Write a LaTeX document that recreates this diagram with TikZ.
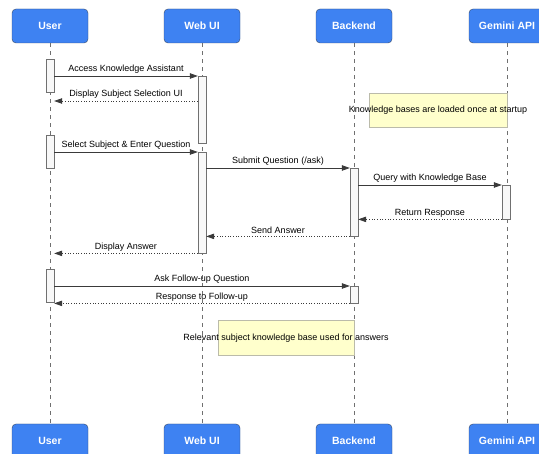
\documentclass[tikz,border=0pt]{standalone}
\usepackage{fontspec}
\setmainfont{Liberation Sans}
\usetikzlibrary{arrows.meta,calc,positioning}
\definecolor{ink}{HTML}{3A3A3A}
\definecolor{gblue}{HTML}{3E82F2}
\definecolor{gedge}{HTML}{3A4A66}
\definecolor{lline}{HTML}{707070}
\definecolor{notefill}{HTML}{FFFFCC}
\definecolor{noteedge}{HTML}{BBBBAA}
\definecolor{barfill}{HTML}{F8F8F8}
\begin{document}
\begin{tikzpicture}[x=1pt,y=-1pt,>={Triangle[length=8pt,width=5.5pt]},
  actor/.style={draw=gedge,fill=gblue,rounded corners=4pt,minimum width=76pt,minimum height=34pt,inner sep=0pt,text=white,font=\fontsize{10.5}{12}\selectfont\bfseries},
  actbar/.style={draw=lline,fill=barfill,minimum width=8pt,inner sep=0pt,anchor=north},
  msg/.style={->,draw=ink,line width=0.8pt},
  ret/.style={->,draw=ink,line width=0.7pt,dotted},
  lbl/.style={above,inner sep=2pt,font=\fontsize{9}{11}\selectfont,text=black},
  notebox/.style={draw=noteedge,fill=notefill,inner sep=0pt}]
\useasboundingbox (0,0) rectangle (539,454);
% participants
\node[actor] (user) at (50,26) {User};
\node[actor] (webui) at (202,26) {Web UI};
\node[actor] (backend) at (354,26) {Backend};
\node[actor] (gemini) at (507,26) {Gemini API};
\node[actor] (userB) at (50,441) {User};
\node[actor] (webuiB) at (202,441) {Web UI};
\node[actor] (backendB) at (354,441) {Backend};
\node[actor] (geminiB) at (507,441) {Gemini API};
% lifelines
\foreach \p in {user,webui,backend,gemini}
  \draw[lline,line width=0.7pt,dash pattern=on 4pt off 4pt] (\p.south) -- (\p B.north);
% notes
\node[notebox,minimum width=138pt,minimum height=34pt] (kbnote) at (438,110) {};
\node[font=\fontsize{9}{11}\selectfont] at (kbnote) {Knowledge bases are loaded once at startup};
\node[notebox,minimum width=136pt,minimum height=35pt] (subnote) at (286,338) {};
\node[font=\fontsize{9}{11}\selectfont] at (subnote) {Relevant subject knowledge base used for answers};
% activations
\node[actbar,minimum height=33pt] (ua1) at (50,59) {};
\node[actbar,minimum height=67pt] (wa1) at (202,76) {};
\node[actbar,minimum height=33pt] (ua2) at (50,135) {};
\node[actbar,minimum height=101pt] (wa2) at (202,152) {};
\node[actbar,minimum height=68pt] (ba1) at (354,168) {};
\node[actbar,minimum height=34pt] (ga1) at (506,185) {};
\node[actbar,minimum height=33pt] (ua3) at (50,269) {};
\node[actbar,minimum height=17pt] (ba2) at (354,286) {};
% messages
\draw[msg] (ua1.east |- wa1.north) -- node[lbl] {Access Knowledge Assistant} (wa1.north west);
\draw[ret] ($(wa1.north west)+(0,25)$) -- node[lbl] {Display Subject Selection UI} ($(ua1.east |- wa1.north)+(0,25)$);
\draw[msg] (ua2.east |- wa2.north) -- node[lbl] {Select Subject \& Enter Question} (wa2.north west);
\draw[msg] (wa2.east |- ba1.north) -- node[lbl] {Submit Question (/ask)} (ba1.north west);
\draw[msg] (ba1.east |- ga1.north) -- node[lbl] {Query with Knowledge Base} (ga1.north west);
\draw[ret] (ga1.south west) -- node[lbl] {Return Response} (ba1.east |- ga1.south);
\draw[ret] (ba1.south west) -- node[lbl] {Send Answer} (wa2.east |- ba1.south);
\draw[ret] (wa2.south west) -- node[lbl] {Display Answer} (ua2.east |- wa2.south);
\draw[msg] (ua3.east |- ba2.north) -- node[lbl] {Ask Follow-up Question} (ba2.north west);
\draw[ret] (ba2.south west) -- node[lbl] {Response to Follow-up} (ua3.east |- ba2.south);
\end{tikzpicture}
\end{document}
